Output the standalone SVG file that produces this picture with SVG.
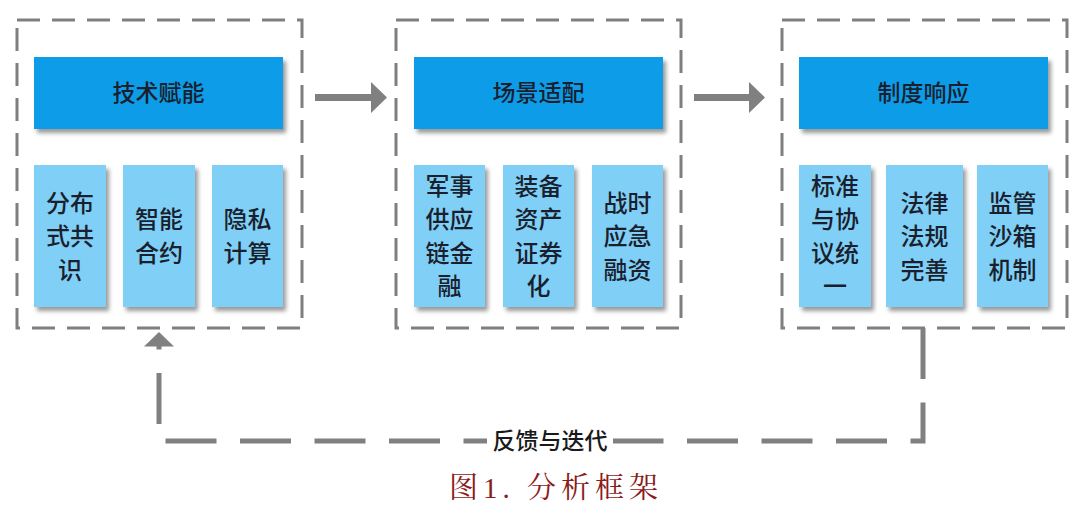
<svg xmlns="http://www.w3.org/2000/svg" width="1080" height="515" viewBox="0 0 1080 515">
  <defs>
    <filter id="sh" x="-20%" y="-20%" width="150%" height="150%">
      <feDropShadow dx="3" dy="4" stdDeviation="2" flood-color="#000" flood-opacity="0.4"/>
    </filter>
  </defs>
  <style>
    .frame { fill: none; stroke: #7f7f7f; stroke-width: 3; stroke-dasharray: 23 12; }
    .head { fill: #0e9ce8; filter: url(#sh); }
    .sub { fill: #80cff6; filter: url(#sh); }
    .ht { font-family: "Noto Sans CJK SC", "Noto Sans", sans-serif; font-size: 23px; font-weight: 500; fill: #1a1f2e; text-anchor: middle; }
    .st { font-family: "Noto Sans CJK SC", "Noto Sans", sans-serif; font-size: 24px; font-weight: 500; fill: #1a1f2e; text-anchor: middle; }
    .conn { fill: #808080; }
    .fb { fill: none; stroke: #808080; stroke-width: 5; stroke-dasharray: 51 23.5; }
    .lbl { font-family: "Noto Sans CJK SC", "Noto Sans", sans-serif; font-size: 23px; font-weight: 500; fill: #1a1a1a; text-anchor: middle; }
    .cap { font-family: "Liberation Serif", "Noto Serif CJK SC", "Noto Sans CJK SC", serif; font-size: 29px; fill: #8b1c1c; text-anchor: middle; letter-spacing: 5px; }
  </style>
  <rect width="1080" height="515" fill="#ffffff"/>

  <g id="tech">
    <rect class="frame" x="17" y="20" width="285" height="308"/>
    <rect class="head" x="34" y="57" width="249" height="72"/>
    <text class="ht" x="158.5" y="101">技术赋能</text>
    <rect class="sub" x="34" y="165" width="72" height="142"/>
    <text class="st"><tspan x="70" y="211.5">分布</tspan><tspan x="70" y="245">式共</tspan><tspan x="70" y="278.5">识</tspan></text>
    <rect class="sub" x="123" y="165" width="72" height="142"/>
    <text class="st"><tspan x="159" y="228.25">智能</tspan><tspan x="159" y="261.75">合约</tspan></text>
    <rect class="sub" x="212" y="165" width="71" height="142"/>
    <text class="st"><tspan x="247.5" y="228.25">隐私</tspan><tspan x="247.5" y="261.75">计算</tspan></text>
  </g>

  <g id="scene">
    <rect class="frame" x="396" y="20" width="285" height="308"/>
    <rect class="head" x="414" y="57" width="249" height="72"/>
    <text class="ht" x="538.5" y="101">场景适配</text>
    <rect class="sub" x="414" y="165" width="71" height="142"/>
    <text class="st"><tspan x="449.5" y="194.75">军事</tspan><tspan x="449.5" y="228.25">供应</tspan><tspan x="449.5" y="261.75">链金</tspan><tspan x="449.5" y="295.25">融</tspan></text>
    <rect class="sub" x="503" y="165" width="71" height="142"/>
    <text class="st"><tspan x="538.5" y="194.75">装备</tspan><tspan x="538.5" y="228.25">资产</tspan><tspan x="538.5" y="261.75">证券</tspan><tspan x="538.5" y="295.25">化</tspan></text>
    <rect class="sub" x="592" y="165" width="71" height="142"/>
    <text class="st"><tspan x="627.5" y="211.5">战时</tspan><tspan x="627.5" y="245">应急</tspan><tspan x="627.5" y="278.5">融资</tspan></text>
  </g>

  <g id="inst">
    <rect class="frame" x="782" y="20" width="285" height="308"/>
    <rect class="head" x="799" y="57" width="249" height="72"/>
    <text class="ht" x="923.5" y="101">制度响应</text>
    <rect class="sub" x="799" y="165" width="72" height="142"/>
    <text class="st"><tspan x="835" y="194.75">标准</tspan><tspan x="835" y="228.25">与协</tspan><tspan x="835" y="261.75">议统</tspan><tspan x="835" y="295.25">一</tspan></text>
    <rect class="sub" x="886" y="165" width="77" height="142"/>
    <text class="st"><tspan x="924.5" y="211.5">法律</tspan><tspan x="924.5" y="245">法规</tspan><tspan x="924.5" y="278.5">完善</tspan></text>
    <rect class="sub" x="977" y="165" width="71" height="142"/>
    <text class="st"><tspan x="1012.5" y="211.5">监管</tspan><tspan x="1012.5" y="245">沙箱</tspan><tspan x="1012.5" y="278.5">机制</tspan></text>
  </g>

  <g id="connectors">
    <polygon class="conn" points="315,94 371,94 371,82 387,97.5 371,113 371,101 315,101"/>
    <polygon class="conn" points="694,94 749,94 749,82 765,97.5 749,113 749,101 694,101"/>
    <path class="fb" d="M923,328 V441 H159 V346"/>
    <polygon class="conn" points="159,332 144,346.5 174,346.5"/>
    <rect x="487" y="426" width="126" height="30" fill="#ffffff"/>
    <text class="lbl" x="550" y="449">反馈与迭代</text>
  </g>

  <text class="cap" x="556" y="498">图1. 分析框架</text>
</svg>
